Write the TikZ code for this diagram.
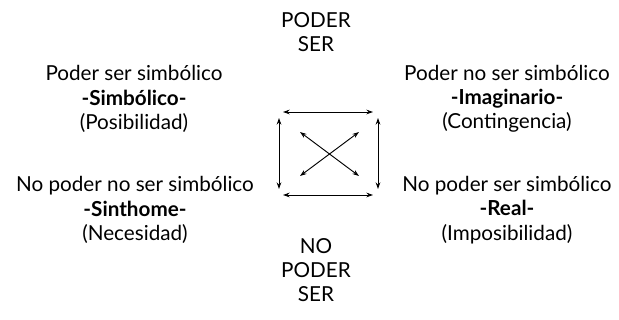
\documentclass[tikz,border=0pt]{standalone}
\usepackage{fontspec}
\setmainfont{Lato}
\usetikzlibrary{arrows.meta}
\begin{document}
\begin{tikzpicture}[x=0.75pt, y=-0.75pt,
    every node/.style={align=center, font=\fontsize{15.5}{18.2}\selectfont, inner sep=0pt},
    sq/.style={{Stealth[length=5pt,width=3.5pt]}-{Stealth[length=5pt,width=3.5pt]}, line width=0.7pt}]
    \useasboundingbox (0, 0) rectangle (619, 320);

    \node (ps) at (316, 32) {PODER\\SER};
    \node (nps) at (316, 270) {NO\\PODER\\SER};

    \node (simb) at (134, 99) {Poder ser simbólico\\\textbf{-Simbólico-}\\(Posibilidad)};
    \node (imag) at (507, 99) {Poder no ser simbólico\\\textbf{-Imaginario-}\\(Contingencia)};
    \node (sint) at (135, 210) {No poder no ser simbólico\\\textbf{-Sinthome-}\\(Necesidad)};
    \node (real) at (507, 210) {No poder ser simbólico\\\textbf{-Real-}\\(Imposibilidad)};

    \coordinate (a) at (283, 112);
    \coordinate (b) at (373, 112);
    \coordinate (c) at (283, 195);
    \coordinate (d) at (373, 195);
    \coordinate (e) at (279, 118);
    \coordinate (f) at (279, 189);
    \coordinate (g) at (378, 118);
    \coordinate (h) at (378, 189);
    \coordinate (i) at (300, 132);
    \coordinate (j) at (359, 176);
    \coordinate (k) at (300, 176);
    \coordinate (l) at (359, 132);

    \draw[sq] (a) -- (b);
    \draw[sq] (c) -- (d);
    \draw[sq] (e) -- (f);
    \draw[sq] (g) -- (h);
    \draw[sq] (i) -- (j);
    \draw[sq] (k) -- (l);
\end{tikzpicture}
\end{document}
